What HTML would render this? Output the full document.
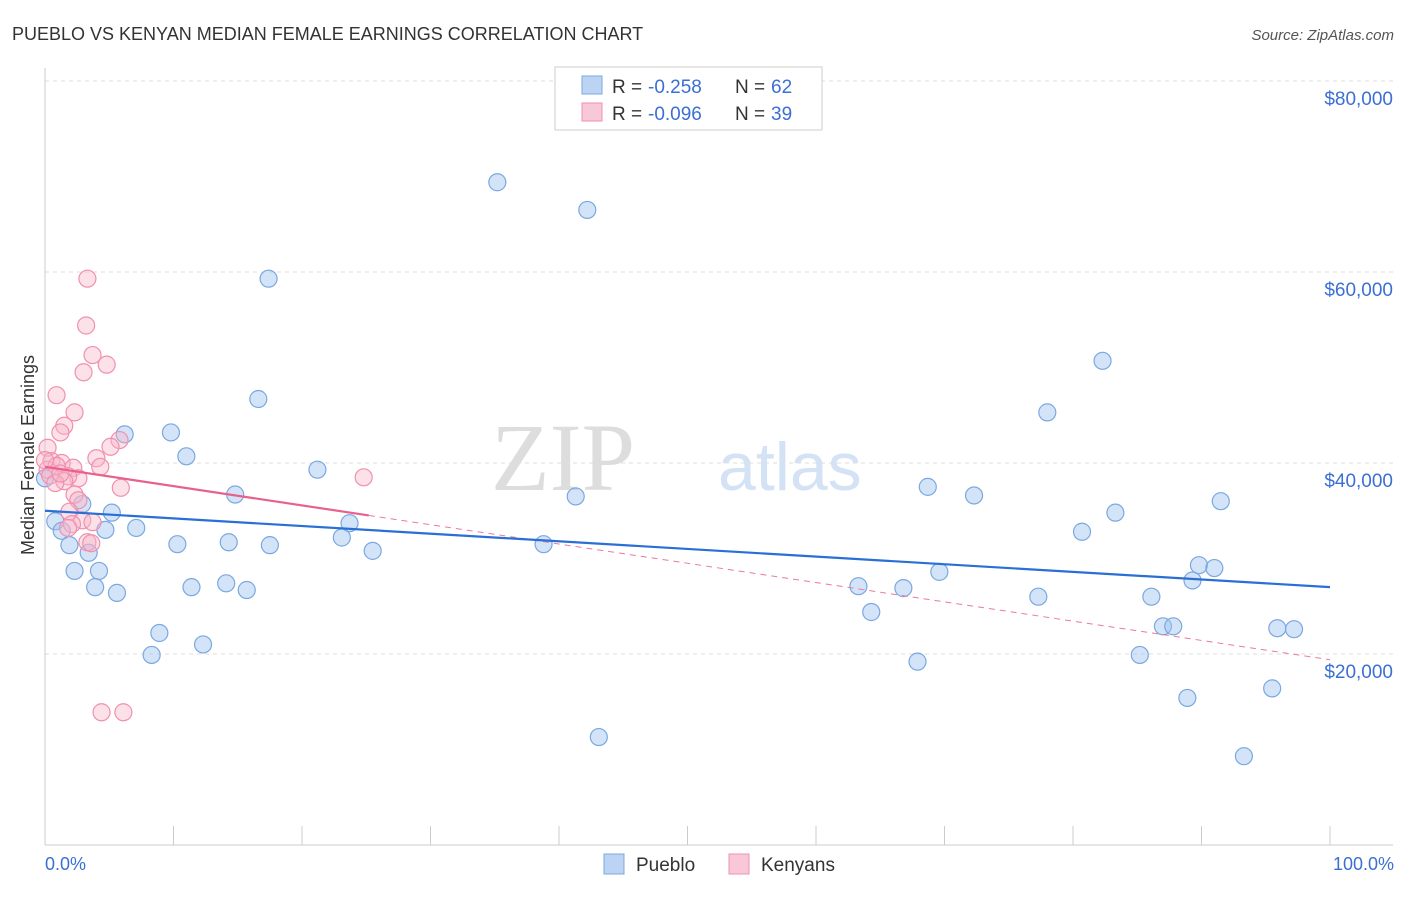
<!DOCTYPE html>
<html><head><meta charset="utf-8"><style>
body{margin:0;background:#fff;font-family:"Liberation Sans",sans-serif}
</style></head><body>
<svg id="c" width="1406" height="892" xmlns="http://www.w3.org/2000/svg" style="font-family:'Liberation Sans',sans-serif">
<text x="12" y="40" font-size="18" fill="#333">PUEBLO VS KENYAN MEDIAN FEMALE EARNINGS CORRELATION CHART</text>
<text x="1394" y="40" font-size="15" fill="#555" font-style="italic" text-anchor="end">Source: ZipAtlas.com</text>
<text x="635" y="490" font-size="96" fill="#ddd" font-family="'Liberation Serif',serif" text-anchor="end">ZIP</text>
<text x="718" y="490" font-size="68" fill="#d4e2f6">atlas</text>
<g id="grid"></g>
<g id="marks"></g>
<text transform="translate(34,455) rotate(-90)" font-size="18" fill="#333" text-anchor="middle">Median Female Earnings</text>
<text x="45" y="870" font-size="18" fill="#3b6fd4">0.0%</text>
<text x="1394" y="870" font-size="18" fill="#3b6fd4" text-anchor="end">100.0%</text>
<g>
<rect x="555" y="67" width="267" height="63" fill="#fff" stroke="#ccc"/>
<rect x="582" y="76" width="20" height="18" fill="#bcd4f4" stroke="#7aa8e0"/>
<rect x="582" y="103" width="20" height="18" fill="#f9c8d8" stroke="#f090b0"/>
<text x="612" y="93" font-size="19" fill="#333">R =</text>
<text x="648" y="93" font-size="19" fill="#3b6fd4">-0.258</text>
<text x="735" y="93" font-size="19" fill="#333">N =</text>
<text x="771" y="93" font-size="19" fill="#3b6fd4">62</text>
<text x="612" y="120" font-size="19" fill="#333">R =</text>
<text x="648" y="120" font-size="19" fill="#3b6fd4">-0.096</text>
<text x="735" y="120" font-size="19" fill="#333">N =</text>
<text x="771" y="120" font-size="19" fill="#3b6fd4">39</text>
</g>
<g>
<rect x="604" y="854" width="20" height="20" fill="#bcd4f4" stroke="#7aa8e0"/>
<text x="636" y="871" font-size="19" fill="#333">Pueblo</text>
<rect x="729" y="854" width="20" height="20" fill="#f9c8d8" stroke="#f090b0"/>
<text x="761" y="871" font-size="19" fill="#333">Kenyans</text>
</g>
</svg>
<script>
const yTicks=[20,40,60,80];
const yTickLabels=["$20,000","$40,000","$60,000","$80,000"];
const xTicks=[0,10,20,30,40,50,60,70,80,90,100];
const puebloX=[35.2,42.2,17.4,82.3,16.6,78.0,6.2,9.8,11.0,21.2,14.8,68.7,72.3,41.3,91.5,2.9,5.2,83.3,0.8,23.7,1.3,4.7,7.1,80.7,23.1,1.9,10.3,14.3,17.5,25.5,38.8,3.4,2.3,4.2,89.8,91.0,69.6,89.3,3.9,11.4,14.1,15.7,63.3,66.8,5.6,77.3,86.1,64.3,87.0,87.8,95.9,97.2,8.9,12.3,8.3,85.2,67.9,95.5,88.9,43.1,93.3,0];
const puebloY=[69.4,66.5,59.3,50.7,46.7,45.3,43.0,43.2,40.7,39.3,36.7,37.5,36.6,36.5,36.0,35.7,34.8,34.8,33.9,33.7,32.9,33.0,33.2,32.8,32.2,31.4,31.5,31.7,31.4,30.8,31.5,30.6,28.7,28.7,29.3,29.0,28.6,27.7,27.0,27.0,27.4,26.7,27.1,26.9,26.4,26.0,26.0,24.4,22.9,22.9,22.7,22.6,22.2,21.0,19.9,19.9,19.2,16.4,15.4,11.3,9.3,38.4];
const kenyanX=[3.3,3.2,3.7,3.0,4.8,0.9,2.3,1.5,1.2,5.8,5.1,4.0,0.2,0.5,1.3,0.2,0.9,2.2,4.3,2.6,1.8,1.5,5.9,2.3,2.6,1.9,24.8,2.9,3.7,2.1,1.8,3.3,3.6,4.4,6.1,0.4,0.8,1.2,0];
const kenyanY=[59.3,54.4,51.3,49.5,50.3,47.1,45.3,43.9,43.2,42.4,41.7,40.5,41.6,40.2,40.0,39.3,39.7,39.5,39.6,38.4,38.6,38.1,37.4,36.7,36.1,34.9,38.5,34.0,33.8,33.6,33.2,31.7,31.6,13.9,13.9,38.7,37.9,38.9,40.3];
const puebloTrend=[35.0,27.0];
const kenyanTrend=[39.6,19.4];
const kenyanSolidEnd=25.2;
const X=v=>45+v*12.85, Y=v=>845-v*9.55;
const NS="http://www.w3.org/2000/svg";
const g=document.getElementById('grid'), m=document.getElementById('marks');
function el(t,a,p){const e=document.createElementNS(NS,t);for(const k in a)e.setAttribute(k,a[k]);p.appendChild(e);return e;}
yTicks.forEach((t,i)=>{
 const l=el('line',{x1:45,x2:1393,y1:Y(t),y2:Y(t),stroke:'#ddd','stroke-dasharray':'4,4'},g);
 
 
 const tx=el('text',{x:1393,y:Y(t)+24,'font-size':19,fill:'#3b6fd4','text-anchor':'end'},g);
 tx.textContent=yTickLabels[i];
 
 
});
const ax=el('line',{x1:45,x2:45,y1:68,y2:845,stroke:'#ccc'},g);


const bx=el('line',{x1:45,x2:1393,y1:845,y2:845,stroke:'#ccc'},g);


xTicks.forEach(t=>{
 const l=el('line',{x1:X(t),x2:X(t),y1:826,y2:845,stroke:'#ccc'},g);
 
 
});
puebloX.forEach((x,i)=>{
 const c=el('circle',{cx:X(x),cy:Y(puebloY[i]),r:8.5,fill:'rgba(160,196,240,0.45)',stroke:'#7aa8e0','stroke-width':1.2},m);
 
 
});
kenyanX.forEach((x,i)=>{
 const c=el('circle',{cx:X(x),cy:Y(kenyanY[i]),r:8.5,fill:'rgba(248,180,200,0.4)',stroke:'#f090b0','stroke-width':1.2},m);
 
 
});
const kAt=x=>kenyanTrend[0]+(kenyanTrend[1]-kenyanTrend[0])*x/100;
const kd=el('line',{x1:X(kenyanSolidEnd),y1:Y(kAt(kenyanSolidEnd)),x2:X(100),y2:Y(kenyanTrend[1]),stroke:'#e87aa0','stroke-width':1,'stroke-dasharray':'6,5'},m);


const ks=el('line',{x1:X(0),y1:Y(kenyanTrend[0]),x2:X(kenyanSolidEnd),y2:Y(kAt(kenyanSolidEnd)),stroke:'#e8608e','stroke-width':2.2},m);


const pt=el('line',{x1:X(0),y1:Y(puebloTrend[0]),x2:X(100),y2:Y(puebloTrend[1]),stroke:'#2a6fd6','stroke-width':2.2},m);


</script>
</body></html>
